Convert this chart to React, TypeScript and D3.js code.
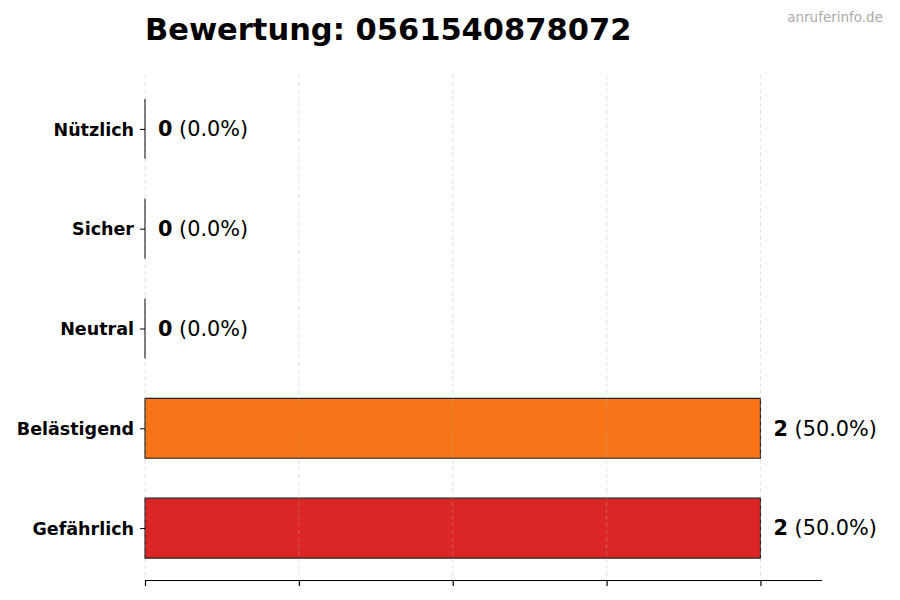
import React, { useEffect, useRef } from 'react';
import * as d3 from 'd3';

const categories = ['Nützlich', 'Sicher', 'Neutral', 'Belästigend', 'Gefährlich'];
const counts = [0, 0, 0, 2, 2];
const percents = ['0.0%', '0.0%', '0.0%', '50.0%', '50.0%'];
const colors = ['#22c55e', '#3b82f6', '#9ca3af', '#f77518', '#dc2626'];
const xTicks = [0, 0.5, 1, 1.5, 2];

const W = 900;
const H = 600;

const App: React.FC = () => {
  const svgRef = useRef<SVGSVGElement>(null);

  useEffect(() => {
    if (!svgRef.current) return;
    const svg = d3.select(svgRef.current);
    svg.selectAll('*').remove();

    const left = 145;
    const right = 822;
    const top = 75;
    const bottom = 580;

    const x = d3.scaleLinear().domain([0, 2.2]).range([left, right]);
    const y = d3.scalePoint<string>().domain(categories).range([79, 578]).padding(0.5);
    const barH = y.step() * 0.6;
    const font = 'DejaVu Sans, sans-serif';

    svg.append('rect').attr('width', W).attr('height', H).attr('fill', '#fff');

    // title + watermark
    svg.append('text')
      .attr('x', left)
      .attr('y', 40)
      .attr('font-family', font)
      .attr('font-weight', 'bold')
      .attr('font-size', 30.5)
      .attr('fill', '#000')
      .text('Bewertung: 0561540878072');

    svg.append('text')
      .attr('x', 883)
      .attr('y', 22)
      .attr('text-anchor', 'end')
      .attr('font-family', font)
      .attr('font-size', 13.5)
      .attr('fill', '#aaa')
      .text('anruferinfo.de');

    // bars
    const data = categories.map((c, i) => ({ c, v: counts[i], p: percents[i], color: colors[i] }));

    svg.append('g')
      .selectAll('path')
      .data(data)
      .enter()
      .append('path')
      .attr('d', d => {
        const y0 = (y(d.c) as number) - barH / 2;
        return `M${x(0)},${y0}H${x(d.v)}V${y0 + barH}H${x(0)}Z`;
      })
      .attr('fill', d => d.color)
      .attr('stroke', '#222')
      .attr('stroke-width', 1.2);

    // grid over bars
    svg.append('g')
      .selectAll('line')
      .data(xTicks)
      .enter()
      .append('line')
      .attr('x1', d => x(d))
      .attr('x2', d => x(d))
      .attr('y1', top)
      .attr('y2', bottom)
      .attr('stroke', '#b0b0b0')
      .attr('stroke-opacity', 0.45)
      .attr('stroke-width', 0.8)
      .attr('stroke-dasharray', '4,3');

    // x axis
    const xAxis = d3.axisBottom(x).tickValues(xTicks).tickSize(6).tickFormat(() => '');
    const gx = svg.append('g').attr('transform', `translate(0,${bottom})`).call(xAxis);
    gx.select('.domain').attr('d', `M${left},0.5H${right}`).attr('stroke', '#000').attr('stroke-width', 1.2);
    gx.selectAll('.tick line').attr('stroke', '#000').attr('stroke-width', 1.2);

    // y ticks and labels
    const yAxis = d3.axisLeft(y).tickSize(5).tickPadding(6);
    const gy = svg.append('g').attr('transform', `translate(${left},0)`).call(yAxis);
    gy.select('.domain').remove();
    gy.selectAll('.tick line').attr('stroke', '#000').attr('stroke-width', 1);
    gy.selectAll('.tick text')
      .attr('font-family', font)
      .attr('font-weight', 'bold')
      .attr('font-size', 17.5)
      .attr('fill', '#000')
      .attr('dy', '0.35em');

    // value labels
    const labels = svg.append('g')
      .selectAll('text')
      .data(data)
      .enter()
      .append('text')
      .attr('x', d => x(d.v) + 13)
      .attr('y', d => (y(d.c) as number))
      .attr('dy', '0.35em')
      .attr('font-family', font)
      .attr('font-size', 20.8)
      .attr('fill', '#000');
    labels.append('tspan').attr('font-weight', 'bold').text(d => `${d.v}`);
    labels.append('tspan').text(d => ` (${d.p})`);
  }, []);

  return <svg ref={svgRef} width={W} height={H} style={{ display: 'block', margin: -8 }} />;
};

export default App;
